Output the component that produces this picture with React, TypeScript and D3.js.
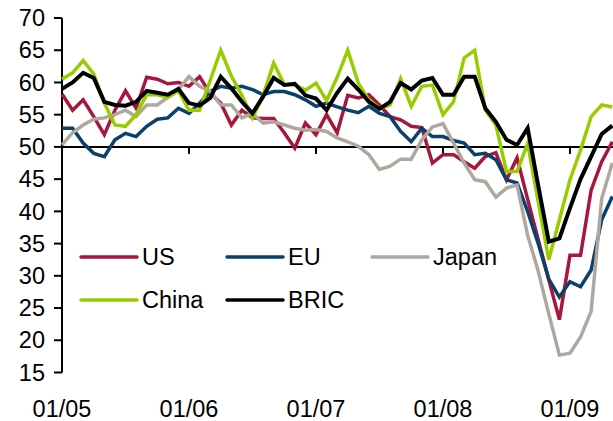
import React from "react";
import * as d3 from "d3";

const monthLabels = ["01/05", "01/06", "01/07", "01/08", "01/09"];
const labelMonthIdx = [0, 12, 24, 36, 48];
const yTicks = [15, 20, 25, 30, 35, 40, 45, 50, 55, 60, 65, 70];

const us = [58.2, 55.7, 57.3, 54.7, 51.9, 55.7, 58.7, 56.0, 60.8, 60.5, 59.8, 60.0, 59.4, 60.9, 58.3, 56.8, 53.4, 55.7, 54.5, 54.4, 54.4, 52.2, 49.8, 53.7, 51.9, 55.0, 52.2, 58.0, 57.6, 58.1, 56.5, 54.7, 54.2, 53.2, 53.0, 47.5, 48.8, 48.8, 47.7, 46.7, 48.5, 49.1, 44.9, 48.3, 41.9, 35.6, 29.4, 23.2, 33.2, 33.2, 43.3, 47.7, 50.8];
const eu = [52.9, 52.9, 50.6, 49.0, 48.5, 51.1, 52.1, 51.6, 53.2, 54.3, 54.5, 56.0, 55.2, 56.8, 58.6, 59.4, 59.1, 59.4, 58.9, 58.1, 58.6, 58.6, 58.1, 57.3, 56.3, 56.8, 56.2, 55.7, 55.3, 56.3, 55.2, 54.7, 52.4, 50.8, 52.9, 51.6, 51.6, 51.0, 50.6, 48.8, 49.0, 48.0, 44.9, 44.4, 40.0, 35.0, 29.5, 26.7, 29.1, 28.3, 30.9, 38.7, 42.3];
const japan = [50.3, 52.2, 53.4, 54.3, 54.5, 55.0, 55.7, 54.7, 56.5, 56.5, 57.7, 58.9, 60.9, 59.4, 58.6, 56.5, 56.5, 54.5, 55.2, 53.7, 53.9, 53.4, 52.9, 52.6, 52.7, 52.4, 51.4, 50.8, 50.1, 48.8, 46.5, 47.0, 48.1, 48.1, 51.1, 53.1, 53.6, 50.6, 47.5, 44.9, 44.6, 42.2, 43.6, 44.1, 36.3, 30.7, 24.1, 17.7, 18.0, 20.5, 24.5, 42.0, 47.5];
const china = [60.5, 61.5, 63.4, 61.3, 56.8, 53.4, 53.2, 55.0, 58.1, 58.1, 57.7, 58.7, 55.7, 55.7, 60.3, 65.0, 61.0, 58.0, 54.5, 58.0, 63.0, 59.7, 59.6, 58.8, 59.9, 57.2, 60.8, 65.0, 59.9, 57.3, 56.0, 56.5, 60.6, 56.3, 59.4, 59.6, 55.0, 57.0, 63.8, 65.0, 55.7, 53.4, 46.2, 46.2, 50.5, 41.5, 32.5, 38.7, 44.9, 49.5, 54.7, 56.5, 56.2];
const bric = [59.0, 60.0, 61.5, 60.7, 57.0, 56.5, 56.4, 57.0, 58.7, 58.4, 58.1, 59.0, 56.8, 56.4, 57.6, 60.9, 59.1, 57.0, 55.2, 57.8, 60.7, 59.6, 59.8, 58.0, 57.5, 55.7, 58.4, 60.6, 58.9, 57.0, 55.9, 57.0, 59.9, 58.9, 60.3, 60.7, 58.1, 58.1, 60.9, 60.9, 56.0, 53.9, 51.1, 50.3, 52.9, 44.0, 35.3, 35.8, 40.5, 45.0, 48.5, 52.0, 53.3];

const seriesNames = ["US", "EU", "Japan", "China", "BRIC"];
const seriesColors = ["#A6173C", "#0B3F6C", "#B0A79E", "#99CC00", "#000000"];
const seriesData = [us, eu, japan, china, bric];

const W = 613;
const H = 421;
const FONT = "'Liberation Sans', Arial, sans-serif";
const FS = 23.5;

export default function App() {
  const x = d3.scaleLinear().domain([0, 52]).range([62, 612.3]);
  const y = d3.scaleLinear().domain([15, 70]).range([372.5, 18]);
  const line = d3
    .line<number>()
    .x((_, i) => x(i))
    .y((d) => y(d));

  const legendPos = [
    { lx: 81, ly: 257 },
    { lx: 227, ly: 257 },
    { lx: 372, ly: 257 },
    { lx: 81, ly: 300 },
    { lx: 227, ly: 300 },
  ];

  return (
    <svg
      width={W}
      height={H}
      style={{ position: "absolute", left: 0, top: 0, background: "#fff" }}
      fontFamily={FONT}
    >
      <rect x={0} y={0} width={W} height={H} fill="#fff" />
      {/* y axis */}
      <line x1={x(0)} x2={x(0)} y1={y(70)} y2={y(15)} stroke="#000" strokeWidth={2} />
      {yTicks.map((t) => (
        <g key={t}>
          <line x1={x(0) - 8} x2={x(0)} y1={y(t)} y2={y(t)} stroke="#000" strokeWidth={2} />
          <text x={45} y={y(t) + FS * 0.35} textAnchor="end" fontSize={FS} fill="#000">
            {t}
          </text>
        </g>
      ))}
      {/* 50 baseline */}
      <line x1={x(0)} x2={W} y1={y(50)} y2={y(50)} stroke="#000" strokeWidth={2} />
      {labelMonthIdx.map((m, k) => (
        <g key={m}>
          {m > 0 && (
            <line x1={x(m)} x2={x(m)} y1={y(50)} y2={y(50) + 7} stroke="#000" strokeWidth={2} />
          )}
          <text x={x(m)} y={417} textAnchor="middle" fontSize={FS} fill="#000">
            {monthLabels[k]}
          </text>
        </g>
      ))}
      {/* series */}
      {seriesData.map((d, k) => (
        <path
          key={seriesNames[k]}
          d={line(d) || ""}
          fill="none"
          stroke={seriesColors[k]}
          strokeWidth={k === 4 ? 4 : 3.5}
          strokeLinejoin="miter"
        />
      ))}
      {/* legend */}
      {seriesNames.map((n, k) => (
        <g key={n}>
          <line
            x1={legendPos[k].lx}
            x2={legendPos[k].lx + 56}
            y1={legendPos[k].ly}
            y2={legendPos[k].ly}
            stroke={seriesColors[k]}
            strokeWidth={3.5}
            strokeLinecap="round"
          />
          <text x={legendPos[k].lx + 61} y={legendPos[k].ly + FS * 0.35} fontSize={FS} fill="#000">
            {n}
          </text>
        </g>
      ))}
    </svg>
  );
}
